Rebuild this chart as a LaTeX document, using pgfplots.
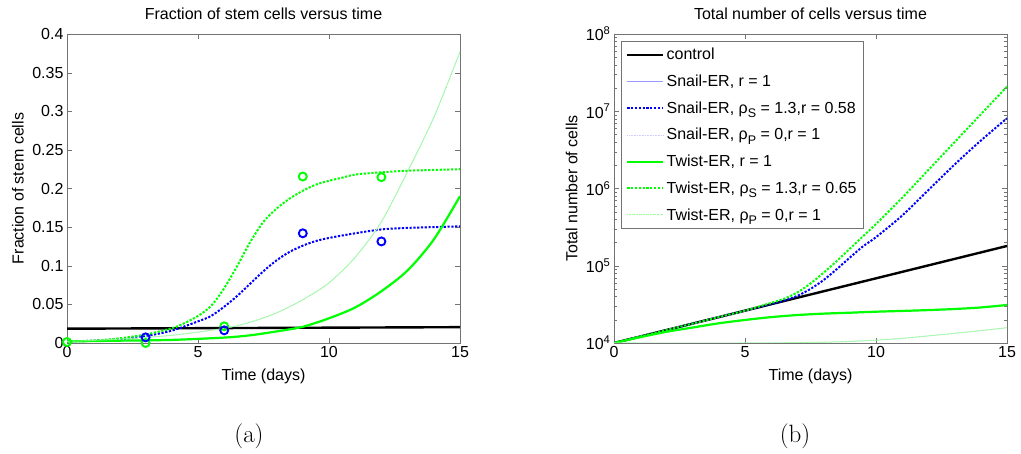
\documentclass[border=0pt]{standalone}
\usepackage{fontspec}
\newfontfamily\hv{Liberation Sans}
\usepackage{pgfplots}
\pgfplotsset{compat=1.18}

\definecolor{mgreen}{rgb}{0,1,0}
\definecolor{mblue}{rgb}{0,0,1}
\definecolor{lblue}{rgb}{0.6,0.6,1}
\definecolor{llblue}{rgb}{0.8,0.8,1}
\definecolor{lgreen}{rgb}{0.6,1,0.6}
\definecolor{axgray}{rgb}{0.45,0.45,0.45}

\newcommand{\hvs}{\hv\fontsize{16}{19}\selectfont}
\newcommand{\sub}[1]{\raisebox{-0.5ex}{\fontsize{12.5}{13}\selectfont #1}}

\pgfplotsset{
  matlab/.style={
    width=393pt, height=309pt, scale only axis,
    xmin=0, xmax=15,
    xtick={0,5,10,15}, xticklabels={0,5,10,15},
    tick label style={font=\hvs},
    label style={font=\hvs},
    title style={font=\hvs, at={(0.5,1)}, anchor=base, yshift=8pt},
    xlabel style={at={(axis description cs:0.5,0)}, anchor=center, yshift=-33pt},
    axis line style={axgray},
    major tick style={axgray},
    minor tick style={axgray},
    major tick length=5pt, minor tick length=3pt,
    clip=true,
  },
  ctrl/.style={black, line width=2.4pt},
  snailone/.style={lblue, line width=0.6pt, smooth},
  snailS/.style={mblue, line width=2pt, dash pattern=on 2.2pt off 1.6pt, smooth},
  snailP/.style={llblue, line width=0.7pt, dash pattern=on 0.8pt off 0.8pt, smooth},
  twistone/.style={mgreen, line width=2.2pt, smooth},
  twistS/.style={mgreen, line width=2pt, dash pattern=on 2.2pt off 1.6pt, smooth},
  twistP/.style={lgreen, line width=1pt, dash pattern=on 0.9pt off 0.5pt, smooth},
}

\begin{document}
\begin{tikzpicture}
\path[use as bounding box] (0,0) rectangle (1021pt,454pt);

% (a) fraction of stem cells
\begin{axis}[matlab,
    at={(67pt,111pt)}, anchor=south west,
    ymin=0, ymax=0.4,
    ytick={0,0.05,0.1,0.15,0.2,0.25,0.3,0.35,0.4},
    yticklabels={0,0.05,0.1,0.15,0.2,0.25,0.3,0.35,0.4},
    title={Fraction of stem cells versus time},
    xlabel={Time (days)},
    ylabel={Fraction of stem cells},
    ylabel style={at={(axis description cs:-0.125,0.5)}, anchor=center},
]
\addplot[ctrl] coordinates {(0,0.0185) (15,0.0205)};
\addplot[snailone] coordinates {
  (0,0.002) (2,0.003) (4,0.004) (6,0.007) (7,0.010) (8,0.015) (9,0.021)
  (10,0.032) (11,0.046) (12,0.067) (13,0.094) (14,0.134) (15,0.190)};
\addplot[snailS] coordinates {
  (0,0.002) (1,0.003) (2,0.005) (3,0.009) (4,0.016) (5,0.028) (5.5,0.035)
  (6,0.047) (6.5,0.061) (7,0.077) (7.5,0.093) (8,0.107) (8.5,0.118)
  (9,0.126) (9.5,0.132) (10,0.136) (11,0.142) (12,0.147) (13,0.149)
  (14,0.150) (15,0.151)};
\addplot[snailP] coordinates {
  (0,0.002) (2,0.005) (4,0.010) (6,0.019) (7,0.027) (8,0.039) (9,0.056)
  (10,0.078) (11,0.111) (12,0.157) (13,0.222) (14,0.292) (15,0.377)};
\addplot[twistone] coordinates {
  (0,0.002) (2,0.003) (4,0.004) (6,0.007) (7,0.010) (8,0.015) (9,0.021)
  (10,0.032) (11,0.046) (12,0.067) (13,0.094) (14,0.134) (15,0.190)};
\addplot[twistS] coordinates {
  (0,0.002) (1,0.003) (2,0.006) (3,0.011) (4,0.019) (4.5,0.026) (5,0.035)
  (5.5,0.048) (6,0.071) (6.5,0.100) (7,0.131) (7.5,0.157) (8,0.174)
  (8.5,0.187) (9,0.197) (9.5,0.205) (10,0.210) (10.5,0.214) (11,0.218)
  (12,0.221) (13,0.223) (14,0.224) (15,0.225)};
\addplot[twistP] coordinates {
  (0,0.002) (2,0.005) (4,0.010) (6,0.019) (7,0.027) (8,0.039) (9,0.056)
  (10,0.078) (11,0.111) (12,0.157) (13,0.222) (14,0.292) (15,0.377)};
% measured fractions
\addplot[only marks, mark=o, mark size=4pt, mgreen, line width=1.9pt]
  coordinates {(0,0.0013) (3,0.0) (6,0.0216) (9,0.2155) (12,0.2147)};
\addplot[only marks, mark=o, mark size=4pt, mblue, line width=1.9pt]
  coordinates {(3,0.0073) (6,0.0164) (9,0.142) (12,0.1315)};
\end{axis}

% (b) total number of cells
\begin{axis}[matlab,
    at={(614pt,111pt)}, anchor=south west,
    ymode=log, ymin=1e4, ymax=1e8,
    ytick={1e4,1e5,1e6,1e7,1e8},
    yticklabels={10\textsuperscript{4},10\textsuperscript{5},10\textsuperscript{6},10\textsuperscript{7},10\textsuperscript{8}},
    title={Total number of cells versus time},
    xlabel={Time (days)},
    ylabel={Total number of cells},
    ylabel style={at={(axis description cs:-0.108,0.5)}, anchor=center},
    legend style={at={(0.018,0.977)}, anchor=north west, font=\hvs,
      draw=axgray, row sep=9.6pt, inner sep=5pt},
    legend cell align=left,
    legend image code/.code={\draw[#1] (0pt,0pt) -- (36pt,0pt);},
]
\addplot[ctrl] coordinates {(0,10000) (5,26210) (10,68710) (15,180300)};
\addplot[snailone] coordinates {
  (0,10000) (1,11885) (2,13964) (3,15849) (4,17989) (5,19861) (6,21627)
  (7,23014) (8,23988) (9,24660) (10,25410) (11,26002) (12,26669)
  (13,27542) (14,28840) (15,31046)};
\addplot[snailS] coordinates {
  (0,10000) (1,12123) (2,14701) (3,17824) (4,21627) (5,26210) (6,31989)
  (6.5,35481) (7,40738) (7.5,50119) (8,65313) (8.5,90157) (9,127350)
  (9.5,177828) (10,234423) (11,446684) (12,954993) (13,2041738)
  (14,4168694) (15,8109611)};
\addplot[snailP] coordinates {
  (0,10000) (5,10000) (7,10116) (8,10233) (9,10471) (10,10889) (11,11482)
  (12,12359) (13,13335) (14,14454) (15,15776)};
\addplot[twistone] coordinates {
  (0,10000) (1,11885) (2,13964) (3,15849) (4,17989) (5,19861) (6,21627)
  (7,23014) (8,23988) (9,24660) (10,25410) (11,26002) (12,26669)
  (13,27542) (14,28840) (15,31046)};
\addplot[twistS] coordinates {
  (0,10000) (1,12123) (2,14701) (3,17824) (4,21627) (5,26300) (6,33113)
  (6.5,37584) (7,45186) (7.5,58884) (8,81283) (8.5,114815) (9,165959)
  (9.5,239883) (10,346737) (11,758578) (12,1737801) (13,3981072)
  (14,9120108) (15,20796966)};
\addplot[twistP] coordinates {
  (0,10000) (5,10000) (7,10116) (8,10233) (9,10471) (10,10889) (11,11482)
  (12,12359) (13,13335) (14,14454) (15,15776)};
\legend{control,
  {Snail-ER, r = 1},
  {Snail-ER, ρ\sub{S} = 1.3,r = 0.58},
  {Snail-ER, ρ\sub{P} = 0,r = 1},
  {Twist-ER, r = 1},
  {Twist-ER, ρ\sub{S} = 1.3,r = 0.65},
  {Twist-ER, ρ\sub{P} = 0,r = 1}}
\end{axis}

\node[font=\fontsize{25}{30}\selectfont] at (249pt,18pt) {(a)};
\node[font=\fontsize{25}{30}\selectfont] at (795pt,18pt) {(b)};
\end{tikzpicture}
\end{document}
